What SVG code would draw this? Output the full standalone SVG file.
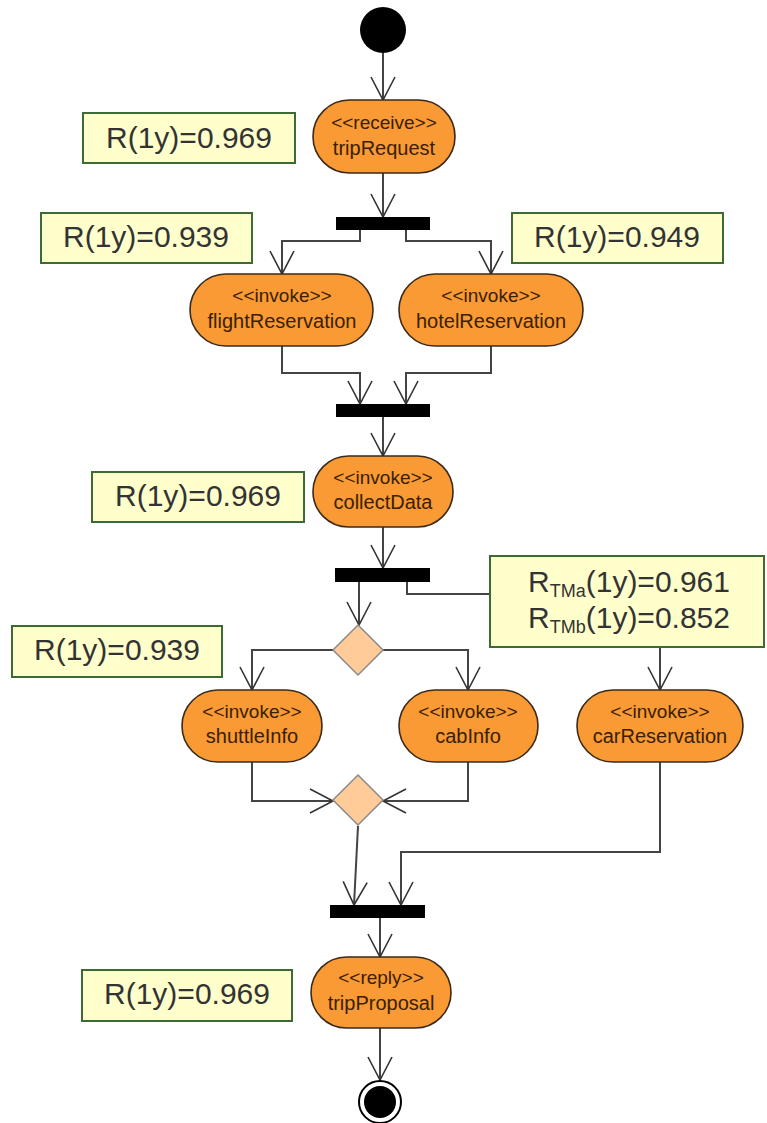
<svg xmlns="http://www.w3.org/2000/svg" width="767" height="1123" viewBox="0 0 767 1123">
  <defs>
    <style>
      .act { fill: #F99A34; stroke: #3a2a1a; stroke-width: 1.6; }
      .st { font-family: "Liberation Sans", Arial, sans-serif; font-size: 19px; fill: #3a2000; text-anchor: middle; }
      .nm { font-family: "Liberation Sans", Arial, sans-serif; font-size: 20px; fill: #3a2000; text-anchor: middle; }
      .bar { fill: #000; }
      .dec { fill: #FFCC99; stroke: #8a8a8a; stroke-width: 1.5; }
      .note { fill: #FFFFCC; stroke: #3d6b35; stroke-width: 2; }
      .nt { font-family: "Liberation Sans", Arial, sans-serif; font-size: 30px; fill: #333; text-anchor: middle; }
      .sub { font-size: 18px; }
      .flow { fill: none; stroke: #444; stroke-width: 2; marker-end: url(#open); }
      .plain { fill: none; stroke: #444; stroke-width: 2; }
    </style>
    <marker id="open" markerUnits="userSpaceOnUse" viewBox="-25 -14 28 28" refX="0" refY="0" markerWidth="28" markerHeight="28" orient="auto">
      <path d="M-23,-12 L0,0 L-23,12" fill="none" stroke="#333" stroke-width="1.6"/>
    </marker>
  </defs>

  <!-- control flow -->
  <g id="connectors">
    <path class="flow" d="M383,53 L383,100"/>
    <path class="flow" d="M383,173 L383,217"/>
    <path class="flow" d="M360,230 L360,241 L282,241 L282,274"/>
    <path class="flow" d="M406,230 L406,241 L491,241 L491,274"/>
    <path class="flow" d="M282,346 L282,373 L360,373 L360,404"/>
    <path class="flow" d="M491,346 L491,373 L406,373 L406,404"/>
    <path class="flow" d="M383,417 L383,456"/>
    <path class="flow" d="M383,527 L383,568"/>
    <path class="flow" d="M359,582 L359,625"/>
    <path class="plain" d="M407,582 L407,594 L490,594"/>
    <path class="flow" d="M660,647 L660,690"/>
    <path class="flow" d="M333,650 L252,650 L252,690"/>
    <path class="flow" d="M383,650 L468,650 L468,690"/>
    <path class="flow" d="M252,762 L252,801 L333,801"/>
    <path class="flow" d="M468,762 L468,801 L383,801"/>
    <path class="flow" d="M358,826 L354,905"/>
    <path class="flow" d="M660,762 L660,852 L401,852 L401,905"/>
    <path class="flow" d="M380,918 L380,957"/>
    <path class="flow" d="M380,1028 L380,1080"/>
  </g>

  <!-- start / end -->
  <g id="initial"><circle cx="383" cy="30" r="23" fill="#000"/></g>
  <g id="final">
    <circle cx="380" cy="1102" r="21" fill="#fff" stroke="#000" stroke-width="2"/>
    <circle cx="380" cy="1102" r="16" fill="#000"/>
  </g>

  <!-- activities -->
  <g id="tripRequest">
    <rect class="act" x="313" y="100" width="142" height="73" rx="36.5"/>
    <text class="st" x="384" y="129">&lt;&lt;receive&gt;&gt;</text>
    <text class="nm" x="384" y="155">tripRequest</text>
  </g>
  <g id="flightReservation">
    <rect class="act" x="190" y="274" width="183" height="72" rx="36"/>
    <text class="st" x="282" y="302">&lt;&lt;invoke&gt;&gt;</text>
    <text class="nm" x="282" y="328">flightReservation</text>
  </g>
  <g id="hotelReservation">
    <rect class="act" x="399" y="274" width="184" height="72" rx="36"/>
    <text class="st" x="491" y="302">&lt;&lt;invoke&gt;&gt;</text>
    <text class="nm" x="491" y="328">hotelReservation</text>
  </g>
  <g id="collectData">
    <rect class="act" x="313" y="456" width="140" height="71" rx="35.5"/>
    <text class="st" x="383" y="484">&lt;&lt;invoke&gt;&gt;</text>
    <text class="nm" x="383" y="509">collectData</text>
  </g>
  <g id="shuttleInfo">
    <rect class="act" x="182" y="690" width="140" height="72" rx="36"/>
    <text class="st" x="252" y="718">&lt;&lt;invoke&gt;&gt;</text>
    <text class="nm" x="252" y="743">shuttleInfo</text>
  </g>
  <g id="cabInfo">
    <rect class="act" x="399" y="690" width="139" height="72" rx="36"/>
    <text class="st" x="468" y="718">&lt;&lt;invoke&gt;&gt;</text>
    <text class="nm" x="468" y="743">cabInfo</text>
  </g>
  <g id="carReservation">
    <rect class="act" x="577" y="690" width="166" height="72" rx="36"/>
    <text class="st" x="660" y="718">&lt;&lt;invoke&gt;&gt;</text>
    <text class="nm" x="660" y="743">carReservation</text>
  </g>
  <g id="tripProposal">
    <rect class="act" x="311" y="957" width="140" height="71" rx="35.5"/>
    <text class="st" x="381" y="984">&lt;&lt;reply&gt;&gt;</text>
    <text class="nm" x="381" y="1010">tripProposal</text>
  </g>

  <!-- fork / join bars -->
  <g id="fork1"><rect class="bar" x="336" y="217" width="94" height="13"/></g>
  <g id="join1"><rect class="bar" x="336" y="404" width="94" height="13"/></g>
  <g id="fork2"><rect class="bar" x="335" y="568" width="95" height="14"/></g>
  <g id="join2"><rect class="bar" x="330" y="905" width="95" height="13"/></g>

  <!-- decision / merge -->
  <g id="decision"><path class="dec" d="M358,625 L383,650 L358,675 L333,650 Z"/></g>
  <g id="merge"><path class="dec" d="M358,775 L383,800 L358,825 L333,800 Z"/></g>

  <!-- reliability notes -->
  <g id="note-tripRequest">
    <rect class="note" x="83" y="113" width="212" height="50"/>
    <text class="nt" x="189" y="148">R(1y)=0.969</text>
  </g>
  <g id="note-flight">
    <rect class="note" x="41" y="213" width="211" height="50"/>
    <text class="nt" x="146" y="247">R(1y)=0.939</text>
  </g>
  <g id="note-hotel">
    <rect class="note" x="512" y="213" width="211" height="50"/>
    <text class="nt" x="617" y="247">R(1y)=0.949</text>
  </g>
  <g id="note-collect">
    <rect class="note" x="92" y="472" width="212" height="50"/>
    <text class="nt" x="198" y="506">R(1y)=0.969</text>
  </g>
  <g id="note-shuttle">
    <rect class="note" x="12" y="626" width="210" height="51"/>
    <text class="nt" x="117" y="660">R(1y)=0.939</text>
  </g>
  <g id="note-car">
    <rect class="note" x="490" y="556" width="274" height="91"/>
    <text class="nt" x="629" y="592">R<tspan class="sub" dy="5">TMa</tspan><tspan dy="-5">(1y)=0.961</tspan></text>
    <text class="nt" x="629" y="628">R<tspan class="sub" dy="5">TMb</tspan><tspan dy="-5">(1y)=0.852</tspan></text>
  </g>
  <g id="note-tripProposal">
    <rect class="note" x="82" y="970" width="210" height="51"/>
    <text class="nt" x="187" y="1004">R(1y)=0.969</text>
  </g>
</svg>
